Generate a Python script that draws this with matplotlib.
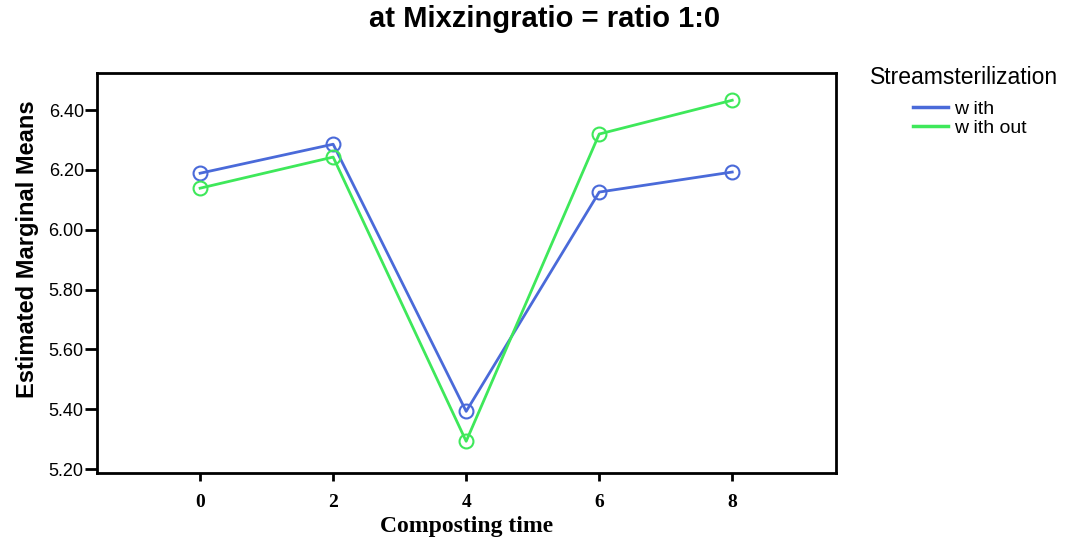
import matplotlib.pyplot as plt
from matplotlib.lines import Line2D

# data
times = [0, 2, 4, 6, 8]
with_vals = [6.189, 6.286, 5.393, 6.126, 6.193]
without_vals = [6.139, 6.243, 5.293, 6.320, 6.433]
series_labels = ["w ith", "w ith out"]
yticks = [5.20, 5.40, 5.60, 5.80, 6.00, 6.20, 6.40]

blue = "#4a6ad9"
green = "#3ee85a"

fig = plt.figure(figsize=(10.79, 5.40), dpi=100)
ax = fig.add_axes([0.0899, 0.1241, 0.6849, 0.7407])

ax.plot(times, with_vals, color=blue, lw=2, marker="o", ms=10,
        mfc="none", mec=blue, mew=1.5)
ax.plot(times, without_vals, color=green, lw=2, marker="o", ms=10,
        mfc="none", mec=green, mew=1.5)

ax.set_xlim(-1.55, 9.56)
ax.set_ylim(5.187, 6.524)
ax.set_xticks(times)
ax.set_yticks(yticks)
ax.set_yticklabels(["%.2f" % v for v in yticks], family="Liberation Sans", fontsize=13)
ax.set_xticklabels([str(t) for t in times], family="Liberation Serif",
                   fontweight="bold", fontsize=14)
ax.tick_params(axis="y", direction="out", length=8.5, width=2, color="black", pad=1)
ax.tick_params(axis="x", direction="out", length=6, width=2, color="black", pad=9)
for s in ax.spines.values():
    s.set_linewidth(2)
    s.set_color("black")

ax.set_xlabel("Composting time", family="Liberation Serif", fontweight="bold",
              fontsize=17, labelpad=4)
ax.set_ylabel("Estimated Marginal Means", family="Liberation Sans",
              fontweight="bold", fontsize=17)
ax.yaxis.set_label_coords(-0.078, 0.56)

fig.text(0.505, 0.965, "at Mixzingratio = ratio 1:0", ha="center", va="center",
         family="Liberation Sans", fontweight="bold", fontsize=21)

# legend: title placed separately, entries indented like the original
fig.text(870 / 1079, 1 - 78 / 540, "Streamsterilization", ha="left", va="center",
         family="Liberation Sans", fontsize=16.5)
handles = [Line2D([], [], color=blue, lw=2.5), Line2D([], [], color=green, lw=2.5)]
leg = fig.legend(handles, series_labels, loc="upper left",
                 bbox_to_anchor=(913 / 1079, 1 - 100 / 540), frameon=False,
                 borderpad=0, borderaxespad=0,
                 prop={"family": "Liberation Sans", "size": 14},
                 handlelength=1.8, handletextpad=0.3, labelspacing=0.1)

fig.savefig("out.png", dpi=100)
